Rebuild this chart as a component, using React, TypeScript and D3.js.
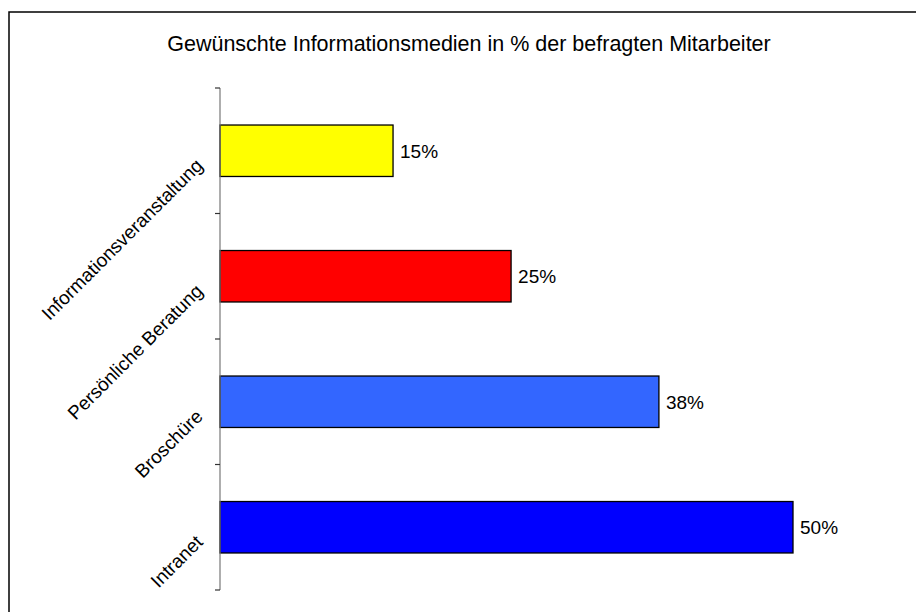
import { useRef, useEffect } from 'react';
import * as d3 from 'd3';

const WIDTH = 916;
const HEIGHT = 612;

const TITLE = 'Gewünschte Informationsmedien in % der befragten Mitarbeiter';
const categories = ['Informationsveranstaltung', 'Persönliche Beratung', 'Broschüre', 'Intranet'];
const values = [0.151, 0.254, 0.383, 0.5];
const colors = ['#ffff00', '#ff0000', '#3366ff', '#0000ff'];

const FONT = '"Liberation Sans", Arial, Helvetica, sans-serif';

export default function App() {
  const svgRef = useRef<SVGSVGElement | null>(null);

  useEffect(() => {
    const svg = d3.select(svgRef.current);
    svg.selectAll('*').remove();

    // outer frame (runs off the right and bottom edges)
    svg.append('rect')
      .attr('x', 9).attr('y', 12)
      .attr('width', 920).attr('height', 640)
      .attr('fill', '#fff').attr('stroke', '#000').attr('stroke-width', 1.5);

    svg.append('text')
      .attr('x', 469).attr('y', 51)
      .attr('text-anchor', 'middle')
      .attr('font-family', FONT).attr('font-size', 21.5)
      .attr('fill', '#000')
      .text(TITLE);

    const y = d3.scaleBand<string>()
      .domain(categories)
      .range([88, 590])
      .paddingInner(0.59)
      .paddingOuter(0.295);

    const x = d3.scaleLinear().domain([0, 0.5]).range([220, 793]);
    const fmt = d3.format('.0%');

    // bars
    svg.selectAll('rect.bar').data(categories).enter()
      .append('rect')
      .attr('class', 'bar')
      .attr('x', x(0))
      .attr('y', d => y(d)!)
      .attr('width', (d, i) => x(values[i]) - x(0))
      .attr('height', y.bandwidth())
      .attr('fill', (d, i) => colors[i])
      .attr('stroke', '#000')
      .attr('stroke-width', 1.3);

    // value labels
    svg.selectAll('text.val').data(categories).enter()
      .append('text')
      .attr('class', 'val')
      .attr('x', (d, i) => x(values[i]) + 7)
      .attr('y', d => y(d)! + y.bandwidth() / 2)
      .attr('dy', '0.36em')
      .attr('font-family', FONT).attr('font-size', 19)
      .attr('fill', '#000')
      .text((d, i) => fmt(values[i]));

    // category axis
    const step = y.step();
    const top = y.range()[0];
    svg.append('line')
      .attr('x1', x(0)).attr('x2', x(0))
      .attr('y1', top).attr('y2', y.range()[1])
      .attr('stroke', '#777').attr('stroke-width', 1.2);

    const tickYs = d3.range(categories.length + 1).map(i => top + i * step);
    svg.selectAll('line.tick').data(tickYs).enter()
      .append('line')
      .attr('class', 'tick')
      .attr('x1', x(0) - 5).attr('x2', x(0))
      .attr('y1', d => d).attr('y2', d => d)
      .attr('stroke', '#333').attr('stroke-width', 1.2);

    svg.selectAll('text.cat').data(categories).enter()
      .append('text')
      .attr('class', 'cat')
      .attr('transform', d => `translate(${x(0) - 16},${y(d)! + y.bandwidth() / 2 + 16}) rotate(-45)`)
      .attr('text-anchor', 'end')
      .attr('font-family', FONT).attr('font-size', 19)
      .attr('fill', '#000')
      .text(d => d);
  }, []);

  return (
    <svg
      ref={svgRef}
      width={WIDTH}
      height={HEIGHT}
      style={{ position: 'fixed', top: 0, left: 0, display: 'block', background: '#fff' }}
    />
  );
}
